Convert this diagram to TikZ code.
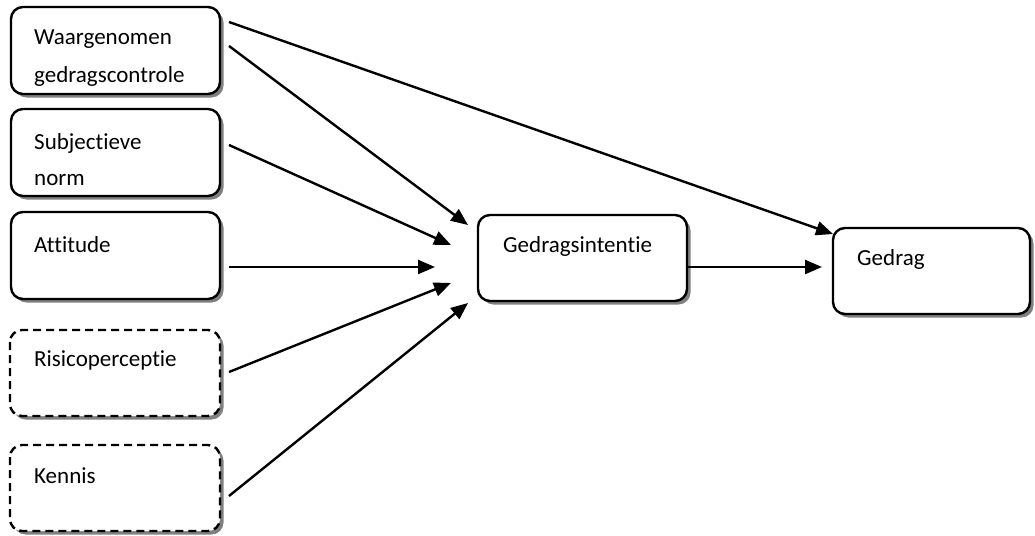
\documentclass[tikz,border=0pt]{standalone}
\usepackage{fontspec}
\setmainfont[Ligatures={NoCommon,NoRare,NoContextual}]{Carlito}
\usetikzlibrary{arrows.meta,shadows}
\begin{document}
\begin{tikzpicture}[x=1pt,y=-1pt,
  box/.style={draw=black,line width=2.4pt,rounded corners=12pt,fill=white,
    drop shadow={shadow xshift=3.5pt,shadow yshift=-3.5pt,fill=black!50,opacity=1}},
  dbox/.style={box,dash pattern=on 8pt off 5pt},
  lbl/.style={anchor=base west,inner sep=0pt,font=\fontsize{23}{37}\selectfont,align=left},
  arr/.style={line width=2.4pt,-{Triangle[length=17pt,width=14pt]}}]
\useasboundingbox (0,0) rectangle (1035,535);
% boxes
\path[box] (11,7) rectangle (220,94);
\path[box] (11,109) rectangle (220,196);
\path[box] (11,212) rectangle (220,299);
\path[dbox] (10,330) rectangle (220,416);
\path[dbox] (10,445) rectangle (220,531);
\path[box] (478,215) rectangle (687,301);
\path[box] (833,228) rectangle (1030,314);
% labels
\node[lbl] (t1) at (34,45) {Waargenomen};
\node[lbl] (t1b) at (34,82) {gedragscontrole};
\node[lbl] (t2) at (34,149) {Subjectieve};
\node[lbl] (t2b) at (34,185) {norm};
\node[lbl] (t3) at (34,252) {Attitude};
\node[lbl] (t4) at (34,366) {Risicoperceptie};
\node[lbl] (t5) at (34,483) {Kennis};
\node[lbl] (t6) at (503,252) {Gedragsintentie};
\node[lbl] (t7) at (857,265) {Gedrag};
% connector endpoints
\coordinate (s1a) at (229,22);
\coordinate (s1b) at (229,46);
\coordinate (s2) at (229,145);
\coordinate (s3) at (229,267);
\coordinate (s4) at (229,372);
\coordinate (s5) at (229,496);
\coordinate (s6) at (687,267);
\coordinate (e1a) at (833,234);
\coordinate (e1b) at (468,225);
\coordinate (e2) at (451,245);
\coordinate (e3) at (435,267);
\coordinate (e4) at (451,283);
\coordinate (e5) at (468,303);
\coordinate (e6) at (822,267);
\draw[arr] (s1a) -- (e1a);
\draw[arr] (s1b) -- (e1b);
\draw[arr] (s2) -- (e2);
\draw[arr] (s3) -- (e3);
\draw[arr] (s4) -- (e4);
\draw[arr] (s5) -- (e5);
\draw[arr] (s6) -- (e6);
\end{tikzpicture}
\end{document}
